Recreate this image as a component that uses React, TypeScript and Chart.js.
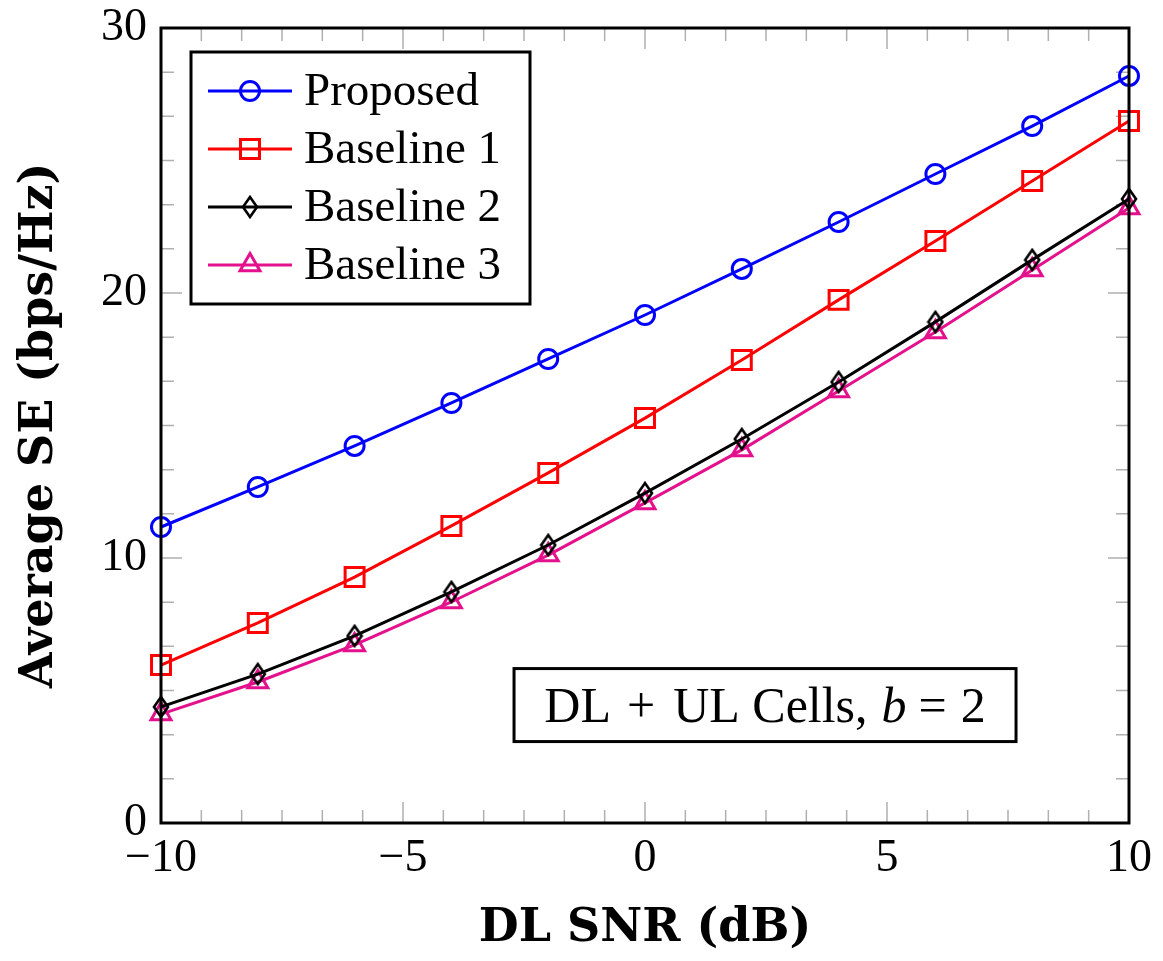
import React, { useEffect, useRef } from 'react';
import { Chart, registerables } from 'chart.js';

Chart.register(...registerables);

const snr = [-10, -8, -6, -4, -2, 0, 2, 4, 6, 8, 10];
const proposed = [11.17, 12.68, 14.23, 15.85, 17.51, 19.17, 20.91, 22.68, 24.49, 26.3, 28.19];
const baseline1 = [5.96, 7.55, 9.28, 11.21, 13.21, 15.28, 17.47, 19.74, 21.96, 24.23, 26.49];
const baseline2 = [4.38, 5.62, 7.06, 8.72, 10.49, 12.45, 14.49, 16.64, 18.91, 21.25, 23.55];
const baseline3 = [4.11, 5.32, 6.72, 8.34, 10.11, 12.08, 14.08, 16.3, 18.53, 20.87, 23.21];
const seriesNames = ['Proposed', 'Baseline 1', 'Baseline 2', 'Baseline 3'];
const seriesColors = ['#0000ff', '#ff0000', '#000000', '#e4108c'];
const seriesMarkers = ['circle', 'rect', 'diamond', 'triangle'];
const xTickValues = [-10, -5, 0, 5, 10];
const yTickValues = [0, 10, 20, 30];
const xTitle = 'DL SNR (dB)';
const yTitle = 'Average SE (bps/Hz)';
const annotationParts = ['DL', '+', 'UL Cells,', 'b', '=', '2'];

const SERIF = '"Liberation Serif", "DejaVu Serif", serif';
const TITLE_SERIF = '"DejaVu Serif", "Liberation Serif", serif';

function makeDiamond(color: string): HTMLCanvasElement {
  const c = document.createElement('canvas');
  c.width = 18;
  c.height = 24;
  const g = c.getContext('2d')!;
  g.strokeStyle = color;
  g.lineWidth = 2.6;
  g.lineJoin = 'miter';
  g.beginPath();
  g.moveTo(9, 2);
  g.lineTo(16, 12);
  g.lineTo(9, 22);
  g.lineTo(2, 12);
  g.closePath();
  g.stroke();
  return c;
}

function drawMarker(ctx: CanvasRenderingContext2D, kind: string, x: number, y: number, color: string, diamond: HTMLCanvasElement) {
  ctx.save();
  ctx.strokeStyle = color;
  ctx.lineWidth = 3;
  ctx.beginPath();
  if (kind === 'circle') {
    ctx.arc(x, y, 9.5, 0, Math.PI * 2);
    ctx.stroke();
  } else if (kind === 'rect') {
    ctx.rect(x - 9.5, y - 9.5, 19, 19);
    ctx.stroke();
  } else if (kind === 'triangle') {
    const r = 11.5;
    ctx.moveTo(x, y - r);
    ctx.lineTo(x + r * Math.sin((2 * Math.PI) / 3), y - r * Math.cos((2 * Math.PI) / 3));
    ctx.lineTo(x + r * Math.sin((4 * Math.PI) / 3), y - r * Math.cos((4 * Math.PI) / 3));
    ctx.closePath();
    ctx.stroke();
  } else {
    ctx.drawImage(diamond, x - diamond.width / 2, y - diamond.height / 2);
  }
  ctx.restore();
}

export default function App() {
  const ref = useRef<HTMLCanvasElement | null>(null);

  useEffect(() => {
    const canvas = ref.current;
    if (!canvas) return;
    const diamond = makeDiamond('#000000');
    const allSeries = [proposed, baseline1, baseline2, baseline3];

    const pointStyleFor = (m: string) => (m === 'diamond' ? diamond : m);
    const radiusFor = (m: string) => (m === 'circle' ? 9.5 : m === 'rect' ? 13.4 : m === 'triangle' ? 11.5 : 10);

    const framePlugin = {
      id: 'frameTicks',
      beforeDatasetsDraw(chart: any) {
        const { ctx, chartArea } = chart;
        const xs = chart.scales.x;
        const ys = chart.scales.y;
        ctx.save();
        ctx.strokeStyle = '#b0b0b0';
        ctx.lineWidth = 1.5;
        const drawX = (v: number, len: number) => {
          const px = xs.getPixelForValue(v);
          ctx.beginPath();
          ctx.moveTo(px, chartArea.bottom);
          ctx.lineTo(px, chartArea.bottom - len);
          ctx.moveTo(px, chartArea.top);
          ctx.lineTo(px, chartArea.top + len);
          ctx.stroke();
        };
        const drawY = (v: number, len: number) => {
          const py = ys.getPixelForValue(v);
          ctx.beginPath();
          ctx.moveTo(chartArea.left, py);
          ctx.lineTo(chartArea.left + len, py);
          ctx.moveTo(chartArea.right, py);
          ctx.lineTo(chartArea.right - len, py);
          ctx.stroke();
        };
        for (let i = 0; i < xTickValues.length; i++) {
          drawX(xTickValues[i], 21);
          if (i < xTickValues.length - 1) {
            const step = (xTickValues[i + 1] - xTickValues[i]) / 6;
            for (let k = 1; k < 6; k++) drawX(xTickValues[i] + k * step, 13);
          }
        }
        for (let i = 0; i < yTickValues.length; i++) {
          drawY(yTickValues[i], 21);
          if (i < yTickValues.length - 1) {
            const step = (yTickValues[i + 1] - yTickValues[i]) / 6;
            for (let k = 1; k < 6; k++) drawY(yTickValues[i] + k * step, 13);
          }
        }
        ctx.restore();
      },
      afterDraw(chart: any) {
        const { ctx, chartArea } = chart;
        const xs = chart.scales.x;
        const ys = chart.scales.y;
        ctx.save();
        // frame
        ctx.strokeStyle = '#000';
        ctx.lineWidth = 3;
        ctx.strokeRect(chartArea.left, chartArea.top, chartArea.right - chartArea.left, chartArea.bottom - chartArea.top);

        // legend
        const lx = chartArea.left + 30;
        const ly = chartArea.top + 24;
        const lw = 339;
        const lh = 252;
        ctx.fillStyle = '#fff';
        ctx.fillRect(lx, ly, lw, lh);
        ctx.lineWidth = 3;
        ctx.strokeStyle = '#000';
        ctx.strokeRect(lx, ly, lw, lh);
        ctx.font = `47px ${SERIF}`;
        ctx.textBaseline = 'alphabetic';
        ctx.textAlign = 'left';
        for (let i = 0; i < seriesNames.length; i++) {
          const yy = ly + 39 + i * 58;
          ctx.strokeStyle = seriesColors[i];
          ctx.lineWidth = 3;
          ctx.beginPath();
          ctx.moveTo(lx + 17, yy);
          ctx.lineTo(lx + 101, yy);
          ctx.stroke();
          drawMarker(ctx, seriesMarkers[i], lx + 59, yy, seriesColors[i], diamond);
          ctx.fillStyle = '#000';
          ctx.fillText(seriesNames[i], lx + 113, yy + 14);
        }

        // annotation
        const cx = xs.getPixelForValue(2.48);
        const cy = ys.getPixelForValue(4.45);
        const bw = 502;
        const bh = 73;
        ctx.fillStyle = '#fff';
        ctx.fillRect(cx - bw / 2, cy - bh / 2, bw, bh);
        ctx.strokeStyle = '#000';
        ctx.lineWidth = 3;
        ctx.strokeRect(cx - bw / 2, cy - bh / 2, bw, bh);
        ctx.fillStyle = '#000';
        const fontN = `50px ${SERIF}`;
        const fontI = `italic 50px ${SERIF}`;
        const gaps = [16, 18, 14, 12, 14];
        const fonts = [fontN, fontN, fontN, fontI, fontN, fontN];
        const widths = annotationParts.map((p, i) => {
          ctx.font = fonts[i];
          return ctx.measureText(p).width;
        });
        let total = 0;
        for (let i = 0; i < widths.length; i++) total += widths[i] + (i < widths.length - 1 ? gaps[i] : 0);
        let tx = cx - total / 2;
        for (let i = 0; i < annotationParts.length; i++) {
          ctx.font = fonts[i];
          ctx.fillText(annotationParts[i], tx, cy + 17);
          tx += widths[i] + (i < gaps.length ? gaps[i] : 0);
        }
        ctx.restore();
      },
    };

    const chart = new Chart(canvas, {
      type: 'line',
      data: {
        labels: snr,
        datasets: seriesNames.map((name, i) => ({
          label: name,
          data: snr.map((x, j) => ({ x, y: allSeries[i][j] })),
          borderColor: seriesColors[i],
          backgroundColor: 'transparent',
          borderWidth: 3,
          pointStyle: pointStyleFor(seriesMarkers[i]) as any,
          pointRadius: radiusFor(seriesMarkers[i]),
          pointBorderWidth: 3,
          pointBorderColor: seriesColors[i],
          pointBackgroundColor: 'transparent',
          tension: 0,
          clip: false as any,
        })),
      },
      options: {
        responsive: false,
        animation: false,
        layout: { padding: { top: 28, right: 34, left: 0, bottom: 0 } },
        plugins: { legend: { display: false }, tooltip: { enabled: false } },
        scales: {
          x: {
            type: 'linear',
            min: -10,
            max: 10,
            grid: { display: false, drawTicks: false },
            border: { display: false },
            afterBuildTicks: (scale: any) => {
              scale.ticks = xTickValues.map((v) => ({ value: v }));
            },
            afterFit: (scale: any) => {
              scale.height = 138;
              scale.paddingLeft = 0;
              scale.paddingRight = 0;
            },
            ticks: {
              color: '#000',
              font: { family: SERIF, size: 46 },
              padding: 8,
              maxRotation: 0,
              callback: (v: any) => String(v).replace('-', '\u2212'),
            },
            title: {
              display: true,
              text: xTitle,
              color: '#000',
              font: { family: TITLE_SERIF, size: 46, weight: 'bold' },
              padding: { top: 0, bottom: 4 },
            },
          },
          y: {
            type: 'linear',
            min: 0,
            max: 30,
            grid: { display: false, drawTicks: false },
            border: { display: false },
            afterBuildTicks: (scale: any) => {
              scale.ticks = yTickValues.map((v) => ({ value: v }));
            },
            afterFit: (scale: any) => {
              scale.width = 161;
              scale.paddingTop = 0;
              scale.paddingBottom = 0;
            },
            ticks: {
              color: '#000',
              font: { family: SERIF, size: 46 },
              padding: 14,
            },
            title: {
              display: true,
              text: yTitle,
              color: '#000',
              font: { family: TITLE_SERIF, size: 46, weight: 'bold' },
              padding: { top: 12, bottom: 0 },
            },
          },
        },
      } as any,
      plugins: [framePlugin],
    });
    return () => chart.destroy();
  }, []);

  return (
    <div style={{ position: 'fixed', left: 0, top: 0, width: 1163, height: 961, background: '#fff' }}>
      <canvas ref={ref} width={1163} height={961} />
    </div>
  );
}
